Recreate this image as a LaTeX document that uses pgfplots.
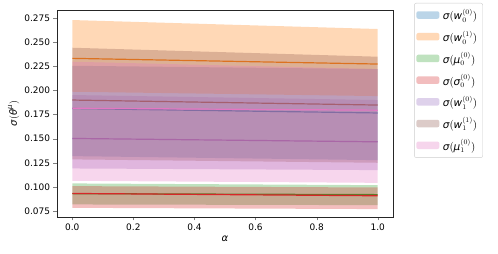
\documentclass[border=0pt]{standalone}
\usepackage{amsmath}
\usepackage{pgfplots}
\pgfplotsset{compat=1.18}
\usepackage{fontspec}
\setmainfont{DejaVu Sans}
\newcommand{\gs}[1]{\text{\itshape #1}}
\definecolor{tblue}{HTML}{1F77B4}
\definecolor{torange}{HTML}{FF7F0E}
\definecolor{tgreen}{HTML}{2CA02C}
\definecolor{tred}{HTML}{D62728}
\definecolor{tpurple}{HTML}{9467BD}
\definecolor{tbrown}{HTML}{8C564B}
\definecolor{tpink}{HTML}{E377C2}
\begin{document}
\begin{tikzpicture}
\useasboundingbox (-57bp,-37bp) rectangle (441bp,217bp);
\begin{axis}[
  at={(0,0)}, anchor=south west,
  scale only axis, width=336bp, height=207bp,
  xmin=-0.05, xmax=1.05, ymin=0.0688, ymax=0.2833,
  xtick={0,0.2,0.4,0.6,0.8,1.0},
  ytick={0.075,0.1,0.125,0.15,0.175,0.2,0.225,0.25,0.275},
  x tick label style={/pgf/number format/.cd, fixed, fixed zerofill, precision=1},
  y tick label style={/pgf/number format/.cd, fixed, fixed zerofill, precision=3},
  /pgf/number format/assume math mode=true,
  scaled y ticks=false,
  tick label style={font=\fontsize{9}{10}\selectfont},
  label style={font=\fontsize{10}{11}\selectfont},
  tick align=outside, tick pos=left,
  major tick length=3.5bp,
  axis line style={black!85, line width=0.8bp},
  xlabel={$\gs{α}$}, ylabel={$\gs{σ}(\gs{θ}^{\gs{μ}})$},
  xlabel style={yshift=2bp},
  ylabel style={yshift=-2bp},
  legend style={at={(1.063,1.034)}, anchor=north west, draw=black!20, rounded corners=2bp,
    font=\fontsize{10.5}{11}\selectfont, row sep=5.5bp, inner xsep=2bp, inner ysep=4bp,
    nodes={inner xsep=3.5bp}},
  legend cell align=left,
  area legend,
  legend image code/.code={\fill[#1] (0bp,-3.5bp) rectangle (23bp,4bp);},
]
% blue
\addplot[tblue, line width=1.2bp, forget plot] coordinates {(0,0.1812) (1,0.1766)};
\addplot[draw=none, fill=tblue, fill opacity=0.3] coordinates {(0,0.1319) (1,0.1277) (1,0.2221) (0,0.2255)} -- cycle;
\addlegendentry{$\gs{σ}(\mathit{w}_0^{(0)})$}
% orange
\addplot[torange, line width=1.2bp, forget plot] coordinates {(0,0.2332) (1,0.2273)};
\addplot[draw=none, fill=torange, fill opacity=0.3] coordinates {(0,0.1986) (1,0.1941) (1,0.2636) (0,0.2729)} -- cycle;
\addlegendentry{$\gs{σ}(\mathit{w}_0^{(1)})$}
% green
\addplot[tgreen, line width=1.2bp, forget plot] coordinates {(0,0.0930) (1,0.0920)};
\addplot[draw=none, fill=tgreen, fill opacity=0.3] coordinates {(0,0.0818) (1,0.0811) (1,0.1018) (0,0.1036)} -- cycle;
\addlegendentry{$\gs{σ}(\gs{μ}_0^{(0)})$}
% red
\addplot[tred, line width=1.2bp, forget plot] coordinates {(0,0.0932) (1,0.0908)};
\addplot[draw=none, fill=tred, fill opacity=0.3] coordinates {(0,0.0783) (1,0.0770) (1,0.0994) (0,0.1008)} -- cycle;
\addlegendentry{$\gs{σ}(\gs{σ}_0^{(0)})$}
% purple
\addplot[tpurple, line width=1.2bp, forget plot] coordinates {(0,0.1502) (1,0.1467)};
\addplot[draw=none, fill=tpurple, fill opacity=0.3] coordinates {(0,0.1191) (1,0.1174) (1,0.1900) (0,0.1952)} -- cycle;
\addlegendentry{$\gs{σ}(\mathit{w}_1^{(0)})$}
% brown
\addplot[tbrown, line width=1.2bp, forget plot] coordinates {(0,0.1900) (1,0.1848)};
\addplot[draw=none, fill=tbrown, fill opacity=0.3] coordinates {(0,0.1285) (1,0.1250) (1,0.2349) (0,0.2442)} -- cycle;
\addlegendentry{$\gs{σ}(\mathit{w}_1^{(1)})$}
% pink
\addplot[tpink, line width=1.2bp, forget plot] coordinates {(0,0.1815) (1,0.1795)};
\addplot[draw=none, fill=tpink, fill opacity=0.3] coordinates {(0,0.1063) (1,0.1042) (1,0.2221) (0,0.2297)} -- cycle;
\addlegendentry{$\gs{σ}(\gs{μ}_1^{(0)})$}
\end{axis}
\end{tikzpicture}
\end{document}
